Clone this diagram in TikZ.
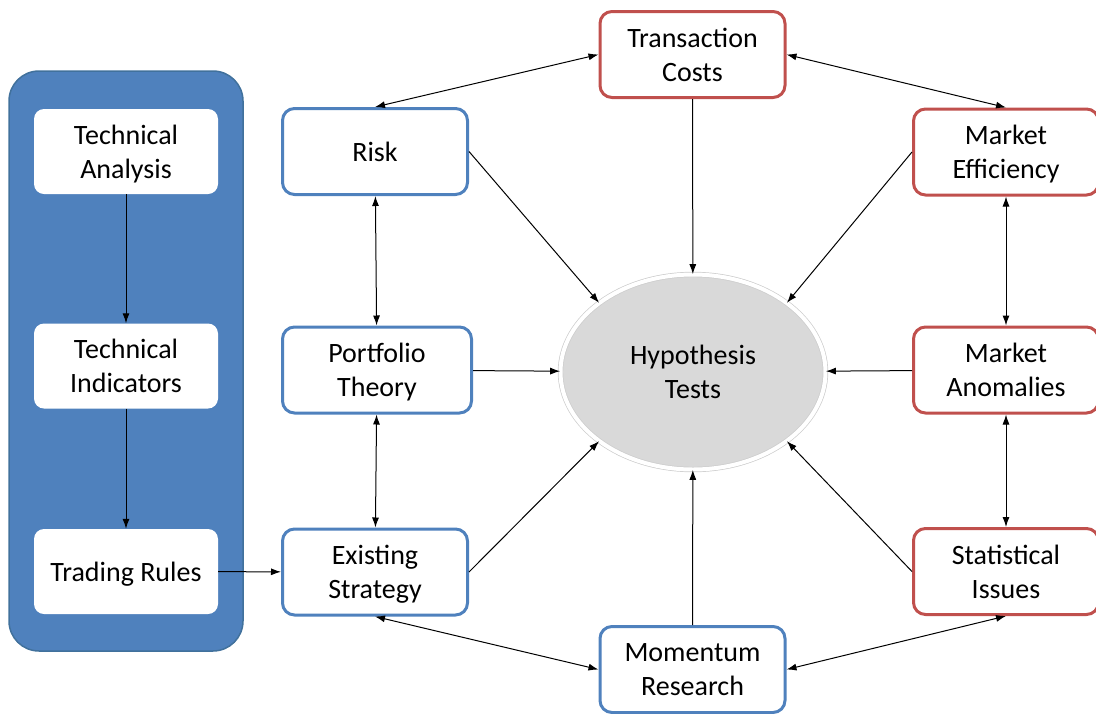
\documentclass[tikz,border=0pt]{standalone}
\usepackage{fontspec}
\setmainfont{Carlito}
\usetikzlibrary{shapes.geometric, arrows.meta}

\definecolor{boxblue}{HTML}{4F81BD}
\definecolor{boxred}{HTML}{C0504D}
\definecolor{panelline}{HTML}{41719C}

\tikzset{
	label font/.style={font=\fontsize{28}{34}\selectfont, text depth=0pt},
	factor/.style={draw=#1, line width=3pt, rounded corners=12pt, fill=white,
		minimum width=185pt, minimum height=86pt, align=center, inner sep=0pt, label font},
	inner box/.style={fill=white, rounded corners=10pt, minimum width=184pt,
		minimum height=85pt, align=center, inner sep=0pt, label font},
	link/.style={-{Latex[length=10pt,width=7pt]}, line width=1pt},
	both/.style={{Latex[length=10pt,width=7pt]}-{Latex[length=10pt,width=7pt]}, line width=1pt}
}

\begin{document}
\begin{tikzpicture}[x=1pt, y=-1pt]
		\useasboundingbox (0,0) rectangle (1096,713);
		\clip (0,0) rectangle (1096,713);

		% left panel
		\draw[fill=boxblue, draw=panelline, line width=1.5pt, rounded corners=30pt]
			(9,71) rectangle (243,651);

		\node[inner box] (ta) at (126,151.5) {Technical\\Analysis};
		\node[inner box] (ti) at (126,366) {Technical\\Indicators};
		\node[inner box] (tr) at (126,571.5) {Trading Rules};

		% factors
		\node[factor=boxblue] (risk) at (375,151.5) {Risk};
		\node[factor=boxblue, minimum width=189pt] (port) at (377,370) {Portfolio\\Theory};
		\node[factor=boxblue] (exist) at (375,572) {Existing\\Strategy};
		\node[factor=boxblue] (mom) at (692.5,669.5) {Momentum\\Research};

		\node[factor=boxred] (trans) at (692.5,54.5) {Transaction\\Costs};
		\node[factor=boxred] (meff) at (1006,152) {Market\\Efficiency};
		\node[factor=boxred] (manom) at (1006,370) {Market\\Anomalies};
		\node[factor=boxred] (stat) at (1006,571.5) {Statistical\\Issues};

		% centre
		\node[ellipse, fill=black!15, draw=black!20, double=white, double distance=4pt,
			line width=0.7pt, minimum width=265pt, minimum height=195pt, inner sep=0pt,
			label font, align=center] (hyp) at (693,372) {Hypothesis\\Tests};

		% technical chain
		\draw[link] (ta) -- (ti);
		\draw[link] (ti) -- (tr);
		\draw[link] (tr) -- (exist);

		% ring
		\draw[both] (risk) -- (port);
		\draw[both] (port) -- (exist);
		\draw[both] (meff) -- (manom);
		\draw[both] (manom) -- (stat);
		\draw[both] (risk.north) -- (trans.west);
		\draw[both] (trans.east) -- (meff.north);
		\draw[both] (exist.south) -- (mom.west);
		\draw[both] (mom.east) -- (stat.south);

		% into the tests
		\draw[link] (risk.east) -- (hyp.north west);
		\draw[link] (trans) -- (hyp);
		\draw[link] (meff.west) -- (hyp.north east);
		\draw[link] (port) -- (hyp);
		\draw[link] (manom) -- (hyp);
		\draw[link] (exist.east) -- (hyp.south west);
		\draw[link] (mom) -- (hyp);
		\draw[link] (stat.west) -- (hyp.south east);
	\end{tikzpicture}
\end{document}
